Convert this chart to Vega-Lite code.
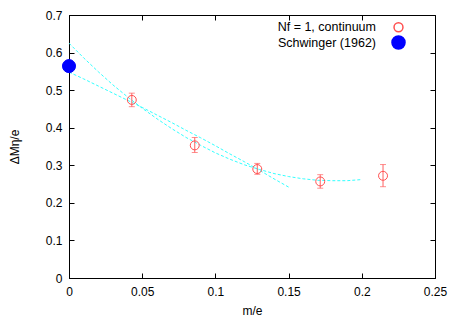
{
  "$schema": "https://vega.github.io/schema/vega-lite/v6.json",
  "width": 366,
  "height": 263,
  "autosize": "none",
  "padding": {"left": 69, "top": 15, "right": 19, "bottom": 40},
  "config": {
    "font": "Liberation Sans",
    "view": {"stroke": "#000000", "strokeWidth": 1},
    "axis": {"labelFontSize": 12, "titleFontSize": 12, "labelColor": "#000", "titleColor": "#000", "titleFontWeight": "normal", "grid": false, "domainColor": "#000", "tickColor": "#000", "labelFlush": false}
  },
  "datasets": {
    "fits": [
      {"curve": "A", "m": 0.00, "y": 0.625},
      {"curve": "A", "m": 0.01, "y": 0.586},
      {"curve": "A", "m": 0.02, "y": 0.549},
      {"curve": "A", "m": 0.03, "y": 0.514},
      {"curve": "A", "m": 0.04, "y": 0.482},
      {"curve": "A", "m": 0.05, "y": 0.452},
      {"curve": "A", "m": 0.06, "y": 0.424},
      {"curve": "A", "m": 0.07, "y": 0.398},
      {"curve": "A", "m": 0.08, "y": 0.374},
      {"curve": "A", "m": 0.09, "y": 0.353},
      {"curve": "A", "m": 0.10, "y": 0.333},
      {"curve": "A", "m": 0.11, "y": 0.316},
      {"curve": "A", "m": 0.12, "y": 0.301},
      {"curve": "A", "m": 0.13, "y": 0.289},
      {"curve": "A", "m": 0.14, "y": 0.278},
      {"curve": "A", "m": 0.15, "y": 0.270},
      {"curve": "A", "m": 0.16, "y": 0.264},
      {"curve": "A", "m": 0.17, "y": 0.260},
      {"curve": "A", "m": 0.18, "y": 0.259},
      {"curve": "A", "m": 0.19, "y": 0.259},
      {"curve": "A", "m": 0.20, "y": 0.262},
      {"curve": "B", "m": 0.00, "y": 0.548},
      {"curve": "B", "m": 0.01, "y": 0.530},
      {"curve": "B", "m": 0.02, "y": 0.511},
      {"curve": "B", "m": 0.03, "y": 0.492},
      {"curve": "B", "m": 0.04, "y": 0.473},
      {"curve": "B", "m": 0.05, "y": 0.454},
      {"curve": "B", "m": 0.06, "y": 0.434},
      {"curve": "B", "m": 0.07, "y": 0.414},
      {"curve": "B", "m": 0.08, "y": 0.393},
      {"curve": "B", "m": 0.09, "y": 0.373},
      {"curve": "B", "m": 0.10, "y": 0.352},
      {"curve": "B", "m": 0.11, "y": 0.330},
      {"curve": "B", "m": 0.12, "y": 0.309},
      {"curve": "B", "m": 0.13, "y": 0.287},
      {"curve": "B", "m": 0.14, "y": 0.264},
      {"curve": "B", "m": 0.15, "y": 0.242}
    ],
    "points": [
      {"series": "Nf = 1, continuum", "m": 0.0429, "y": 0.474, "lo": 0.456, "hi": 0.492},
      {"series": "Nf = 1, continuum", "m": 0.0859, "y": 0.353, "lo": 0.334, "hi": 0.374},
      {"series": "Nf = 1, continuum", "m": 0.1286, "y": 0.290, "lo": 0.276, "hi": 0.305},
      {"series": "Nf = 1, continuum", "m": 0.1716, "y": 0.257, "lo": 0.239, "hi": 0.275},
      {"series": "Nf = 1, continuum", "m": 0.2145, "y": 0.272, "lo": 0.243, "hi": 0.302},
      {"series": "Schwinger (1962)", "m": 0.0, "y": 0.564}
    ]
  },
  "resolve": {"axis": {"x": "independent", "y": "independent"}},
  "layer": [
    {
      "data": {"name": "fits"},
      "mark": {"type": "line", "color": "#33ffff", "strokeWidth": 1, "strokeDash": [3, 2], "clip": true},
      "encoding": {
        "x": {"field": "m", "type": "quantitative", "scale": {"domain": [0, 0.25], "nice": false},
          "axis": {"orient": "bottom", "title": "m/e", "values": [0, 0.05, 0.1, 0.15, 0.2, 0.25], "format": ".2~f", "tickSize": -5, "labelPadding": 13, "titlePadding": 8}},
        "y": {"field": "y", "type": "quantitative", "scale": {"domain": [0, 0.7], "nice": false},
          "axis": {"orient": "left", "title": "ΔMη/e", "values": [0, 0.1, 0.2, 0.3, 0.4, 0.5, 0.6, 0.7], "format": ".1~f", "tickSize": -5, "labelPadding": 12, "titlePadding": 24}},
        "detail": {"field": "curve"}
      }
    },
    {
      "data": {"name": "points"},
      "transform": [{"filter": "datum.lo != null"}],
      "mark": {"type": "errorbar", "ticks": {"size": 6}, "color": "#ff6060", "thickness": 1},
      "encoding": {
        "x": {"field": "m", "type": "quantitative", "axis": {"orient": "top", "labels": false, "title": null, "values": [0, 0.05, 0.1, 0.15, 0.2, 0.25], "tickSize": -5, "domain": false}},
        "y": {"field": "lo", "type": "quantitative", "axis": {"orient": "right", "labels": false, "title": null, "values": [0, 0.1, 0.2, 0.3, 0.4, 0.5, 0.6, 0.7], "tickSize": -5, "domain": false}},
        "y2": {"field": "hi"}
      }
    },
    {
      "data": {"name": "points"},
      "mark": {"type": "point", "shape": "circle", "strokeWidth": 1, "opacity": 1, "clip": false},
      "encoding": {
        "x": {"field": "m", "type": "quantitative", "axis": null},
        "y": {"field": "y", "type": "quantitative", "axis": null},
        "stroke": {"field": "series", "type": "nominal", "scale": {"domain": ["Nf = 1, continuum", "Schwinger (1962)"], "range": ["#ff5050", "#0000ff"]},
          "legend": {"title": null, "orient": "none", "legendX": 322, "legendY": 6, "labelAlign": "right", "labelOffset": -30, "labelFontSize": 12.5, "labelColor": "#000", "rowPadding": -3, "padding": 0}},
        "fill": {"field": "series", "type": "nominal", "scale": {"domain": ["Nf = 1, continuum", "Schwinger (1962)"], "range": ["transparent", "#0000ff"]}},
        "size": {"field": "series", "type": "nominal", "scale": {"domain": ["Nf = 1, continuum", "Schwinger (1962)"], "range": [80, 170]}}
      }
    }
  ]
}
